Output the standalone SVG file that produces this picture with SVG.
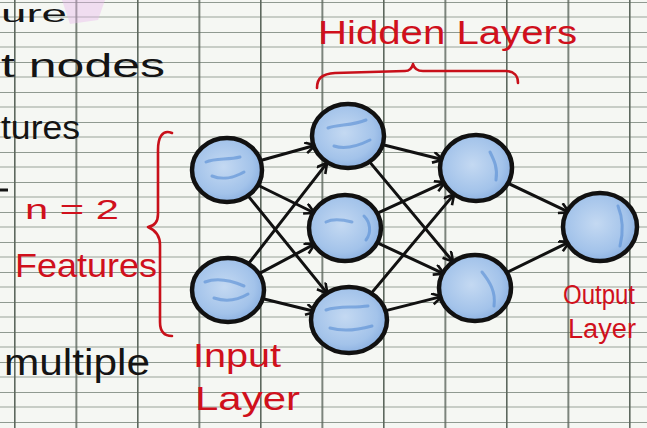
<svg xmlns="http://www.w3.org/2000/svg" width="647" height="428" viewBox="0 0 647 428">
<defs>
<pattern id="grid" x="14" y="2" width="61.5" height="30" patternUnits="userSpaceOnUse">
<line x1="0" y1="0" x2="61.5" y2="0" stroke="#6f7a70" stroke-width="1.6"/>
<line x1="0" y1="15" x2="61.5" y2="15" stroke="#9aa49a" stroke-width="1.1"/>
<line x1="0.8" y1="0" x2="0.8" y2="30" stroke="#5d685e" stroke-width="1.6"/>
</pattern>
<radialGradient id="blue" cx="0.45" cy="0.45" r="0.6">
<stop offset="0" stop-color="#c4d9f2"/>
<stop offset="0.7" stop-color="#a3c3ea"/>
<stop offset="1" stop-color="#86acdf"/>
</radialGradient>
<marker id="arr" markerUnits="userSpaceOnUse" markerWidth="14" markerHeight="14" refX="11" refY="6" orient="auto">
<path d="M1,0.5 L11,6 L1,11.5" fill="none" stroke="#111" stroke-width="2.6" stroke-linejoin="round"/>
</marker>
</defs>
<style>
.node{fill:url(#blue);stroke:#111;stroke-width:4.5}
.streak{fill:none;stroke:#4f86d2;stroke-width:3;stroke-linecap:round;opacity:0.55}
.edge{stroke:#111;stroke-width:3;fill:none;stroke-linecap:round;marker-end:url(#arr)}
.red{fill:#d0101c;font-family:"Liberation Sans",Arial,sans-serif}
.blk{fill:#141414;font-family:"Liberation Sans",Arial,sans-serif}
.brace{fill:none;stroke:#c8101a;stroke-width:2.6;stroke-linecap:round;stroke-linejoin:round}
</style>
<rect width="647" height="428" fill="#f5f7f3"/>
<rect width="647" height="428" fill="url(#grid)"/>
<path d="M62,0 L105,0 L98,20 L70,24 Z" fill="#e9b6ea" opacity="0.4"/>

<g id="left-notes">
<text class="blk" x="1" y="22" font-size="24" textLength="66" lengthAdjust="spacingAndGlyphs">ure</text>
<text class="blk" x="1" y="77" font-size="34" textLength="164" lengthAdjust="spacingAndGlyphs">t nodes</text>
<text class="blk" x="1" y="139" font-size="34" textLength="79" lengthAdjust="spacingAndGlyphs">tures</text>
<line x1="0" y1="190" x2="8" y2="190" stroke="#141414" stroke-width="3"/>
<text class="blk" x="4" y="375" font-size="36" textLength="146" lengthAdjust="spacingAndGlyphs">multiple</text>
</g>

<g id="features-label">
<text class="red" x="25" y="219" font-size="28" textLength="94" lengthAdjust="spacingAndGlyphs">n = 2</text>
<text class="red" x="15" y="277" font-size="34" textLength="142" lengthAdjust="spacingAndGlyphs">Features</text>
<path class="brace" d="M172,133 C162,129 158,138 158,150 L158,214 C158,223 154,226 148,227 C155,230 160,235 160,245 L160,322 C160,332 165,336 172,336"/>
</g>

<g id="hidden-label">
<text class="red" x="318" y="44" font-size="34" textLength="259" lengthAdjust="spacingAndGlyphs">Hidden Layers</text>
<path class="brace" d="M317,88 C317,78 322,74 335,73 L405,71 C410,71 412,68 413,64 C414,68 417,71 423,71 L506,71 C514,71 518,76 518,83"/>
</g>

<g id="connectors">
<line class="edge" x1="259.7" y1="160.8" x2="315.3" y2="145.2"/>
<line class="edge" x1="257.5" y1="185" x2="314.5" y2="213"/>
<line class="edge" x1="248.5" y1="196.4" x2="327.5" y2="293.6"/>
<line class="edge" x1="248.9" y1="263.2" x2="327.1" y2="162.8"/>
<line class="edge" x1="258.1" y1="274.1" x2="314.9" y2="243.9"/>
<line class="edge" x1="261" y1="298.2" x2="316" y2="311.8"/>
<line class="edge" x1="381" y1="144.3" x2="443" y2="159.7"/>
<line class="edge" x1="369.8" y1="162.1" x2="453.2" y2="261.9"/>
<line class="edge" x1="375.9" y1="213.9" x2="445.1" y2="182.1"/>
<line class="edge" x1="375.9" y1="242.2" x2="444.1" y2="273.8"/>
<line class="edge" x1="370.8" y1="293.9" x2="454.2" y2="194.1"/>
<line class="edge" x1="381.9" y1="311.6" x2="442.1" y2="296.4"/>
<line class="edge" x1="506.7" y1="182.6" x2="569.3" y2="212.4"/>
<line class="edge" x1="505.6" y1="273.1" x2="569.4" y2="241.9"/>
</g>

<g id="input-1"><ellipse class="node" cx="227" cy="170" rx="35" ry="32"/><path class="streak" d="M206,162 C215,158 228,160 240,157 M212,176 C222,180 234,178 244,172"/></g>
<g id="input-2"><ellipse class="node" cx="228" cy="290" rx="36" ry="32"/><path class="streak" d="M205,282 C216,278 230,280 244,286 M214,298 C226,302 238,300 248,294"/></g>
<g id="hidden-1a"><ellipse class="node" cx="348" cy="136" rx="36" ry="32"/><path class="streak" d="M328,128 C338,124 352,126 366,120 M334,146 C346,150 358,146 370,140"/></g>
<g id="hidden-1b"><ellipse class="node" cx="345" cy="228" rx="36" ry="33"/><path class="streak" d="M364,216 C370,222 372,232 366,240 M326,222 C334,218 344,220 352,222"/></g>
<g id="hidden-1c"><ellipse class="node" cx="349" cy="320" rx="38" ry="33"/><path class="streak" d="M326,310 C338,306 352,308 368,306 M330,328 C344,332 358,330 372,326"/></g>
<g id="hidden-2a"><ellipse class="node" cx="476" cy="168" rx="36" ry="33"/><path class="streak" d="M490,152 C494,160 498,168 496,180"/></g>
<g id="hidden-2b"><ellipse class="node" cx="475" cy="288" rx="36" ry="33"/><path class="streak" d="M482,272 C490,282 496,292 494,306"/></g>
<g id="output"><ellipse class="node" cx="600" cy="227" rx="37" ry="34"/><path class="streak" d="M618,206 C622,216 624,230 620,246"/></g>

<g id="input-label">
<text class="red" x="193" y="367" font-size="34" textLength="88" lengthAdjust="spacingAndGlyphs">Input</text>
<text class="red" x="195" y="410" font-size="34" textLength="105" lengthAdjust="spacingAndGlyphs">Layer</text>
</g>
<g id="output-label">
<text class="red" x="563" y="304" font-size="27" textLength="72" lengthAdjust="spacingAndGlyphs">Output</text>
<text class="red" x="568" y="338" font-size="27" textLength="68" lengthAdjust="spacingAndGlyphs">Layer</text>
</g>
</svg>
